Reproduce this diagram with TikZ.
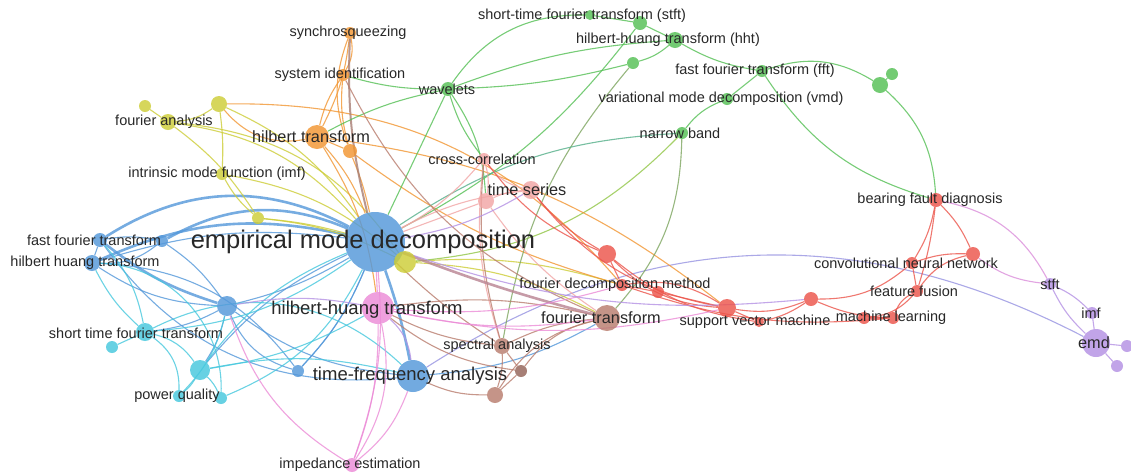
\documentclass[tikz,border=0pt]{standalone}
\usepackage{fontspec}
\setmainfont{Liberation Sans}
\usetikzlibrary{backgrounds}

% cluster colours
\definecolor{cblue}{RGB}{84,152,218}
\definecolor{ccyan}{RGB}{70,200,222}
\definecolor{colive}{RGB}{205,205,55}
\definecolor{corange}{RGB}{242,150,50}
\definecolor{cgreen}{RGB}{85,192,85}
\definecolor{csalmon}{RGB}{242,165,165}
\definecolor{cred}{RGB}{236,85,75}
\definecolor{cbrown}{RGB}{185,125,110}
\definecolor{cmag}{RGB}{236,140,215}
\definecolor{cpurp}{RGB}{180,145,228}
\definecolor{ctext}{RGB}{40,40,40}

\tikzset{
  dot/.style={circle, inner sep=0pt, minimum size=#1, fill opacity=0.82},
  lbl/.style={text=ctext, inner sep=0pt, font=\fontsize{14.5}{16}\selectfont},
  lblmid/.style={lbl, font=\fontsize{16.3}{18}\selectfont},
  lblbig/.style={lbl, font=\fontsize{18.5}{20}\selectfont},
  lblhuge/.style={lbl, font=\fontsize{25.5}{28}\selectfont},
  edge/.style={line width=1.1pt, draw opacity=0.8},
}

\begin{document}
\begin{tikzpicture}[x=1pt, y=-1pt]
        \useasboundingbox (0,0) rectangle (1131,475);

        % Draw blue cluster
        \node[dot=60, fill=cblue] (emd) at (375,242) {};
        \node[dot=32, fill=cblue] (tfa) at (413,376) {};
        \node[dot=14, fill=cblue] (ffta) at (100,240) {};
        \node[dot=12, fill=cblue] (b3) at (162,241) {};
        \node[dot=16, fill=cblue] (hhtb) at (92,263) {};
        \node[dot=20, fill=cblue] (b1) at (227,306) {};
        \node[dot=12, fill=cblue] (b2) at (298,371) {};

        % Draw cyan cluster
        \node[dot=18, fill=ccyan] (stftc) at (145,332) {};
        \node[dot=12, fill=ccyan] (c1) at (112,347) {};
        \node[dot=20, fill=ccyan] (c2) at (200,370) {};
        \node[dot=12, fill=ccyan] (pq) at (179,396) {};
        \node[dot=12, fill=ccyan] (c3) at (221,398) {};

        % Draw olive cluster
        \node[dot=16, fill=colive] (fa) at (168,122) {};
        \node[dot=12, fill=colive] (y1) at (145,106) {};
        \node[dot=16, fill=colive] (y2) at (219,104) {};
        \node[dot=12, fill=colive] (imf1) at (222,174) {};
        \node[dot=12, fill=colive] (y3) at (258,218) {};
        \node[dot=22, fill=colive] (y4) at (405,262) {};

        % Draw orange cluster
        \node[dot=12, fill=corange] (sync) at (350,33) {};
        \node[dot=12, fill=corange] (sysid) at (343,75) {};
        \node[dot=24, fill=corange] (ht) at (317,137) {};
        \node[dot=14, fill=corange] (o1) at (350,151) {};

        % Draw green cluster
        \node[dot=14, fill=cgreen] (wav) at (448,89) {};
        \node[dot=10, fill=cgreen] (stft1) at (590,15) {};
        \node[dot=14, fill=cgreen] (g1) at (640,23) {};
        \node[dot=16, fill=cgreen] (hht2) at (675,40) {};
        \node[dot=12, fill=cgreen] (g2) at (633,63) {};
        \node[dot=12, fill=cgreen] (fft2) at (762,71) {};
        \node[dot=12, fill=cgreen] (vmd) at (727,99) {};
        \node[dot=12, fill=cgreen] (nb) at (682,133) {};
        \node[dot=16, fill=cgreen] (g3) at (880,85) {};
        \node[dot=12, fill=cgreen] (g4) at (892,74) {};

        % Draw salmon cluster
        \node[dot=12, fill=csalmon] (cc) at (484,159) {};
        \node[dot=18, fill=csalmon] (ts) at (531,190) {};
        \node[dot=16, fill=csalmon] (p1) at (486,201) {};

        % Draw red cluster
        \node[dot=14, fill=cred] (bfd) at (936,200) {};
        \node[dot=14, fill=cred] (r1) at (973,254) {};
        \node[dot=12, fill=cred] (cnn) at (912,263) {};
        \node[dot=12, fill=cred] (ff) at (917,291) {};
        \node[dot=12, fill=cred] (ml) at (893,318) {};
        \node[dot=12, fill=cred] (r5) at (864,318) {};
        \node[dot=14, fill=cred] (r6) at (811,299) {};
        \node[dot=10, fill=cred] (svm) at (759,322) {};
        \node[dot=18, fill=cred] (r7) at (727,308) {};
        \node[dot=12, fill=cred] (fdm) at (622,285) {};
        \node[dot=12, fill=cred] (r8) at (658,292) {};
        \node[dot=18, fill=cred] (r9) at (607,254) {};

        % Draw brown cluster
        \node[dot=26, fill=cbrown] (ft) at (607,318) {};
        \node[dot=16, fill=cbrown] (sa) at (502,346) {};
        \node[dot=12, fill=cbrown!80!black] (n1) at (521,371) {};
        \node[dot=16, fill=cbrown] (n2) at (495,395) {};

        % Draw magenta and purple clusters
        \node[dot=32, fill=cmag] (hht) at (378,308) {};
        \node[dot=14, fill=cmag] (ie) at (352,465) {};
        \node[dot=12, fill=cpurp] (stft2) at (1050,284) {};
        \node[dot=12, fill=cpurp] (imf2) at (1092,313) {};
        \node[dot=28, fill=cpurp] (emd2) at (1096,343) {};
        \node[dot=12, fill=cpurp] (q1) at (1127,346) {};
        \node[dot=12, fill=cpurp] (q2) at (1117,366) {};

        % Draw links behind the nodes
        \begin{scope}[on background layer]
        \fill[white] (0,0) rectangle (1131,475);
        \foreach \a/\b/\n in {emd/ffta/-30, emd/b3/-26, emd/hhtb/-18, ffta/b1/-10}
            \draw[edge, cblue, line width=2.6pt] (\a) to[bend left=\n] (\b);
        \draw[edge, cblue, line width=2.6pt] (emd) to[bend left=4] (tfa);
        \foreach \a/\b/\n in {emd/b1/8, emd/b2/10, emd/c2/-12, ffta/b3/10, ffta/hhtb/0,
            hhtb/b3/-20, b3/b1/10, b1/tfa/-15, b1/c2/10, b1/hhtb/15, b1/stftc/10,
            b1/b2/-25, b2/emd/-10, hhtb/b2/25, tfa/ft/-12, hhtb/emd/12, ffta/tfa/-30}
            \draw[edge, cblue] (\a) to[bend left=\n] (\b);
        \draw[edge, cpurp!70!cblue] (tfa) to[bend left=30] (emd2);
        \foreach \a/\b/\n in {stftc/c1/0, stftc/c2/20, stftc/pq/28, stftc/ffta/-15,
            stftc/emd/-15, c2/pq/10, c2/c3/10, c2/tfa/12, c2/hht/-10, c2/emd/15,
            c3/emd/-20, c3/hhtb/-45, stftc/hhtb/10, stftc/tfa/35, pq/b1/-15}
            \draw[edge, ccyan] (\a) to[bend left=\n] (\b);
        \foreach \a/\b/\n in {fa/y1/0, fa/y2/-15, fa/emd/20, fa/y4/25, fa/y3/10,
            y2/emd/15, y2/imf1/5, imf1/y3/-10, imf1/y4/15, y3/emd/5, y3/y4/10,
            y4/ft/12, y4/fdm/10}
            \draw[edge, colive] (\a) to[bend left=\n] (\b);
        \draw[edge, colive, line width=2pt] (y4) to[bend left=15] (emd);
        \draw[edge, colive!50!cgreen] (y4) to[bend left=-20] (nb);
        \foreach \a/\b/\n in {ht/sync/-10, ht/sysid/10, ht/o1/0, sync/sysid/20,
            o1/sysid/10, sync/o1/-20, ht/emd/10, o1/emd/5, y2/ht/-30, ht/r7/15,
            o1/fdm/-10, ht/hht/12, y2/fdm/25}
            \draw[edge, corange] (\a) to[bend left=\n] (\b);
        \draw[edge, cbrown!70!gray, line width=2pt] (sync) to[bend left=-8] (emd);
        \foreach \a/\b/\n in {wav/stft1/28, wav/g2/-6, wav/hht2/8, wav/sysid/8,
            wav/emd/0, wav/cc/-10, wav/p1/15, stft1/g1/0, g1/hht2/0, g1/emd/12,
            hht2/fft2/-10, hht2/g2/12, fft2/vmd/0, fft2/g3/25, vmd/nb/-15,
            g3/g4/0, g3/bfd/22, fft2/bfd/-20, wav/ht/-8}
            \draw[edge, cgreen] (\a) to[bend left=\n] (\b);
        \draw[edge, cgreen!60!cbrown] (nb) to[bend left=20] (ft);
        \draw[edge, cgreen!60!cbrown] (g2) to[bend left=-15] (sa);
        \draw[edge, cgreen!60!cblue] (nb) to[bend left=-15] (emd);
        \foreach \a/\b/\n in {cc/ts/-20, cc/p1/12, p1/ts/10, ts/emd/-10, p1/emd/0,
            cc/sa/-12, p1/ft/-10, cc/emd/10}
            \draw[edge, csalmon] (\a) to[bend left=\n] (\b);
        \foreach \a/\b/\n in {ts/r9/-10, r9/fdm/0, r9/r7/-20, r9/svm/-15,
            fdm/r8/0, r8/r7/0, fdm/r7/20, r7/svm/0, r7/r6/-15, svm/r6/-10,
            r6/cnn/-20, r6/ml/-10, r5/ml/0, r5/ff/-20, ml/ff/20, ff/cnn/0,
            cnn/bfd/-10, r1/bfd/-10, r1/ff/-20, cnn/r1/10, bfd/ff/5, ts/r7/-20,
            cc/r9/-15, fdm/ml/-12}
            \draw[edge, cred] (\a) to[bend left=\n] (\b);
        \foreach \a/\b/\n in {bfd/stft2/25, r1/stft2/-15}
            \draw[edge, cmag!70!cpurp] (\a) to[bend left=\n] (\b);
        \foreach \a/\b/\n in {ft/sa/-10, ft/n1/-20, ft/n2/-22, sa/n1/0, sa/n2/10,
            n1/n2/0, sa/hht/10, sa/emd/5, sa/cc/10, ft/hht/-10, n2/tfa/12,
            n1/hht/15, sysid/ft/-20}
            \draw[edge, cbrown] (\a) to[bend left=\n] (\b);
        \draw[edge, cbrown!70!cpurp, line width=2.6pt] (emd) to[bend left=-3] (ft);
        \foreach \a/\b/\n in {hht/emd/0, hht/ie/10, ie/emd/-12, ie/tfa/-15,
            ie/b1/20, hht/ft/-10, hht/fdm/-10, hht/r7/-12, ie/hht/-22}
            \draw[edge, cmag] (\a) to[bend left=\n] (\b);
        \foreach \a/\b/\n in {stft2/imf2/10, stft2/emd2/-10, imf2/emd2/0,
            emd2/q1/0, emd2/q2/0, hht/b1/-10, hht/tfa/20, ts/emd/10, emd/r6/-12}
            \draw[edge, cpurp] (\a) to[bend left=\n] (\b);
        \end{scope}

        % Add labels
        \node[lbl] (l-ffta) at (ffta) [xshift=-6] {fast fourier transform};
        \node[lbl] (l-hhtb) at (hhtb) [xshift=-7] {hilbert huang transform};
        \node[lbl] (l-stftc) at (stftc) [xshift=-9, yshift=-1] {short time fourier transform};
        \node[lbl] (l-pq) at (pq) [xshift=-2] {power quality};
        \node[lbl] (l-fa) at (fa) [xshift=-4] {fourier analysis};
        \node[lbl] (l-imf1) at (imf1) [xshift=-5] {intrinsic mode function (imf)};
        \node[lbl] (l-sync) at (sync) [xshift=-2] {synchrosqueezing};
        \node[lbl] (l-sysid) at (sysid) [xshift=-3] {system identification};
        \node[lblmid] (l-ht) at (ht) [xshift=-6] {hilbert transform};
        \node[lbl] (l-wav) at (wav) [xshift=-1] {wavelets};
        \node[lbl] (l-stft1) at (stft1) [xshift=-8, yshift=-1] {short-time fourier transform (stft)};
        \node[lbl] (l-hht2) at (hht2) [xshift=-7] {hilbert-huang transform (hht)};
        \node[lbl] (l-fft2) at (fft2) [xshift=-7] {fast fourier transform (fft)};
        \node[lbl] (l-vmd) at (vmd) [xshift=-6] {variational mode decomposition (vmd)};
        \node[lbl] (l-nb) at (nb) [xshift=-2] {narrow band};
        \node[lbl] (l-cc) at (cc) [xshift=-2] {cross-correlation};
        \node[lblmid] (l-ts) at (ts) [xshift=-4] {time series};
        \node[lblhuge] (l-emd) at (emd) [xshift=-12] {empirical mode decomposition};
        \node[lblbig] (l-hht) at (hht) [xshift=-11, yshift=-2] {hilbert-huang transform};
        \node[lblbig] (l-tfa) at (tfa) [xshift=-3] {time-frequency analysis};
        \node[lblmid] (l-ft) at (ft) [xshift=-6] {fourier transform};
        \node[lbl] (l-sa) at (sa) [xshift=-5] {spectral analysis};
        \node[lbl] (l-fdm) at (fdm) [xshift=-7] {fourier decomposition method};
        \node[lbl] (l-svm) at (svm) [xshift=-4] {support vector machine};
        \node[lbl] (l-ml) at (ml) [xshift=-2] {machine learning};
        \node[lbl] (l-ff) at (ff) [xshift=-3] {feature fusion};
        \node[lbl] (l-cnn) at (cnn) [xshift=-6] {convolutional neural network};
        \node[lbl] (l-bfd) at (bfd) [xshift=-6] {bearing fault diagnosis};
        \node[lbl] (l-ie) at (ie) [xshift=-2] {impedance estimation};
        \node[lbl] (l-stft2) at (stft2) {stft};
        \node[lbl] (l-imf2) at (imf2) [xshift=-1] {imf};
        \node[lblmid] (l-emd2) at (emd2) [xshift=-2] {emd};
    \end{tikzpicture}
\end{document}
